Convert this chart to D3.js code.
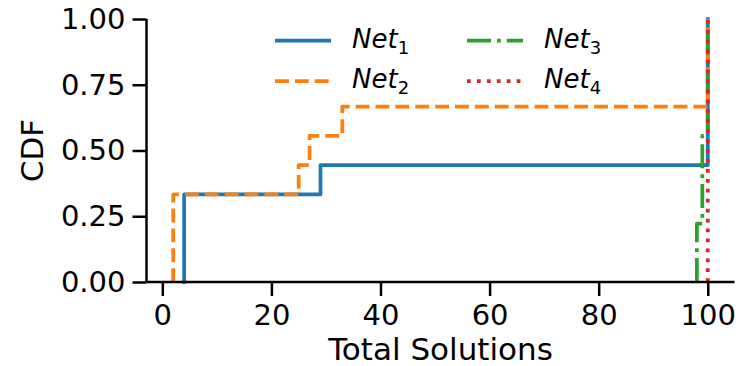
<!DOCTYPE html>
<html>
<head>
<meta charset="utf-8">
<script src="https://cdn.jsdelivr.net/npm/d3@7"></script>
<style>
  html, body { margin: 0; padding: 0; background: #fff; }
  svg { display: block; font-family: "DejaVu Sans", sans-serif; }
</style>
</head>
<body>
<svg id="chart" width="746" height="366"></svg>
<script>
// Samples (Total Solutions) per network, read from the ECDF steps
const seriesNames = ["Net1", "Net2", "Net3", "Net4"];
const net1 = [4, 4, 4, 29, 100, 100, 100, 100, 100];
const net2 = [2, 2, 2, 25, 27, 33, 100, 100, 100];
const net3 = [98, 98, 99, 99, 99, 100, 100, 100, 100];
const net4 = [100, 100, 100, 100, 100, 100, 100, 100, 100];
const xTicks = [0, 20, 40, 60, 80, 100];
const yTicks = [0, 0.25, 0.5, 0.75, 1.0];
const colors = ["#1f77b4", "#ff7f0e", "#2ca02c", "#d62728"];

const lw = 3.75;
const dashes = ["", `${3.7*lw},${1.6*lw}`, `${6.4*lw},${1.6*lw},${1.0*lw},${1.6*lw}`, `${1*lw},${1.65*lw}`];

const svg = d3.select("#chart");
svg.append("rect").attr("width", 746).attr("height", 366).attr("fill", "#fff");

const x = d3.scaleLinear().domain([-2.9, 104.9]).range([146.5, 734.5]);
const y = d3.scaleLinear().domain([0, 1]).range([282, 19]);

function ecdfPoints(samples) {
  const s = samples.slice().sort(d3.ascending);
  const n = s.length;
  const uniq = Array.from(new Set(s));
  const pts = [[uniq[0], 0]];
  uniq.forEach(v => {
    const c = d3.bisectRight(s, v) / n;
    pts.push([v, c]);
  });
  return pts;
}

const line = d3.line().x(d => x(d[0])).y(d => y(d[1])).curve(d3.curveStepAfter);

const allSeries = [net1, net2, net3, net4];
allSeries.forEach((ser, i) => {
  svg.append("path")
    .attr("d", line(ecdfPoints(ser)))
    .attr("fill", "none")
    .attr("stroke", colors[i])
    .attr("stroke-width", lw)
    .attr("stroke-dasharray", dashes[i] || null)
    .attr("stroke-linejoin", "round")
    .attr("stroke-linecap", i === 0 ? "square" : "butt");
});

// Axes
const xAxis = d3.axisBottom(x).tickValues(xTicks).tickFormat(d3.format("d")).tickSize(14).tickPadding(8);
const yAxis = d3.axisLeft(y).tickValues(yTicks).tickFormat(d3.format(".2f")).tickSize(14).tickPadding(7);

const gx = svg.append("g").attr("transform", "translate(0,282)").call(xAxis);
const gy = svg.append("g").attr("transform", "translate(146.5,0)").call(yAxis);

[gx, gy].forEach(g => {
  g.select(".domain").attr("stroke", "#000").attr("stroke-width", 2.5);
  g.selectAll(".tick line").attr("stroke", "#000").attr("stroke-width", 2.5);
  g.selectAll(".tick text").attr("fill", "#000").style("font-size", "29px").style("font-family", "DejaVu Sans");
});
gx.select(".domain").attr("d", `M${x.range()[0]},0H${x.range()[1]}`);
gy.select(".domain").attr("d", `M0,${y.range()[0]}V${y.range()[1]}`);

// Axis labels
svg.append("text")
  .attr("x", (x.range()[0] + x.range()[1]) / 2)
  .attr("y", 360)
  .attr("text-anchor", "middle")
  .style("font-size", "31px")
  .text("Total Solutions");

svg.append("text")
  .attr("transform", `translate(43,${(y.range()[0] + y.range()[1]) / 2}) rotate(-90)`)
  .attr("text-anchor", "middle")
  .style("font-size", "31px")
  .text("CDF");

// Legend
const legendItems = [
  { i: 0, lx: 275, ly: 40.7, sub: "1" },
  { i: 1, lx: 275, ly: 81, sub: "2" },
  { i: 2, lx: 467, ly: 40.7, sub: "3" },
  { i: 3, lx: 467, ly: 81, sub: "4" }
];
legendItems.forEach(it => {
  svg.append("line")
    .attr("x1", it.lx).attr("x2", it.lx + 56)
    .attr("y1", it.ly).attr("y2", it.ly)
    .attr("stroke", colors[it.i])
    .attr("stroke-width", lw)
    .attr("stroke-dasharray", dashes[it.i] || null);
  const t = svg.append("text")
    .attr("x", it.lx + 77)
    .attr("y", it.ly + 6.8)
    .style("font-size", "26px");
  t.append("tspan").style("font-style", "italic").text("Net");
  t.append("tspan").attr("dy", 6).style("font-size", "18px").text(it.sub);
});
</script>
</body>
</html>
